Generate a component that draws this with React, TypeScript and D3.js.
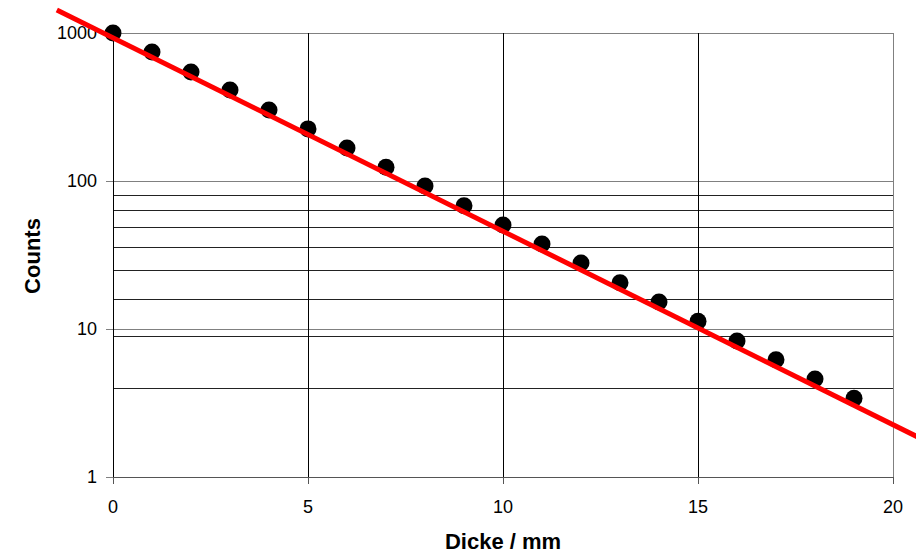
import React from 'react';
import * as d3 from 'd3';

const width = 916;
const height = 554;
const margin = { top: 33, right: 23, bottom: 77, left: 113 };

// Messwerte: Dicke in mm, Counts
const thickness = [0, 1, 2, 3, 4, 5, 6, 7, 8, 9, 10, 11, 12, 13, 14, 15, 16, 17, 18, 19];
const counts = [1000, 745, 545, 412, 302, 225, 167, 124, 92.5, 68, 50.4, 37.5, 27.9, 20.5, 15.2, 11.3, 8.3, 6.2, 4.6, 3.4];

// Fit-Gerade (exponentiell), Endpunkte
const fitX = [-1.44, 21];
const fitA = 928;
const fitMu = 0.301;

const xTicks = [0, 5, 10, 15, 20];
const yTicks = [1, 10, 100, 1000];
const extraLines = [4, 9, 16, 25, 36, 49, 64, 81];

const xScale = d3.scaleLinear().domain([0, 20]).range([margin.left, width - margin.right]);
const yScale = d3.scaleLog().domain([1, 1000]).range([height - margin.bottom, margin.top]);

const font = 'Arial, "Liberation Sans", sans-serif';

export default function App() {
  const x0 = xScale(0);
  const x1 = xScale(20);
  const yBottom = yScale(1);
  const yTop = yScale(1000);

  const fitLine = d3
    .line<number>()
    .x(d => xScale(d))
    .y(d => yScale(fitA * Math.exp(-fitMu * d)));

  return (
    <svg width={width} height={height} style={{ position: 'absolute', left: 0, top: 0, background: '#fff' }}>
      {/* horizontale Linien */}
      {extraLines.map(v => (
        <line key={'e' + v} x1={x0} x2={x1} y1={Math.round(yScale(v)) + 0.5} y2={Math.round(yScale(v)) + 0.5} stroke="#222" strokeWidth={1} />
      ))}
      {yTicks.slice(1).map(v => (
        <line key={'h' + v} x1={x0} x2={x1} y1={Math.round(yScale(v)) + 0.5} y2={Math.round(yScale(v)) + 0.5} stroke="#808080" strokeWidth={1} />
      ))}
      {/* vertikale Linien */}
      {xTicks.slice(1, -1).map(v => (
        <line key={'v' + v} x1={Math.round(xScale(v)) + 0.5} x2={Math.round(xScale(v)) + 0.5} y1={yTop} y2={yBottom} stroke="#000" strokeWidth={1} />
      ))}
      <line x1={Math.round(x1) + 0.5} x2={Math.round(x1) + 0.5} y1={yTop} y2={yBottom} stroke="#808080" />
      {/* Achsen */}
      <line x1={Math.round(x0) + 0.5} x2={Math.round(x0) + 0.5} y1={yTop} y2={yBottom} stroke="#000" />
      <line x1={x0} x2={x1 + 1} y1={Math.round(yBottom) + 0.5} y2={Math.round(yBottom) + 0.5} stroke="#555" />
      {xTicks.map(v => (
        <g key={'xt' + v}>
          <line x1={Math.round(xScale(v)) + 0.5} x2={Math.round(xScale(v)) + 0.5} y1={yBottom} y2={yBottom + 7} stroke="#555" />
          <text x={xScale(v)} y={yBottom + 36} textAnchor="middle" fontFamily={font} fontSize={18} fill="#000">
            {v}
          </text>
        </g>
      ))}
      {yTicks.map(v => (
        <g key={'yt' + v}>
          <line x1={x0 - 7} x2={x0} y1={Math.round(yScale(v)) + 0.5} y2={Math.round(yScale(v)) + 0.5} stroke="#808080" />
          <text x={x0 - 16} y={yScale(v) + 6} textAnchor="end" fontFamily={font} fontSize={18} fill="#000">
            {v}
          </text>
        </g>
      ))}
      {/* Messpunkte */}
      {counts.map((c, i) => (
        <circle key={'p' + i} cx={xScale(thickness[i])} cy={yScale(c)} r={8.5} fill="#000" />
      ))}
      {/* Fit */}
      <path d={fitLine(fitX) || ''} fill="none" stroke="#ff0000" strokeWidth={5} />
      {/* Achsentitel */}
      <text x={503} y={549} textAnchor="middle" fontFamily={font} fontSize={22} fontWeight="bold" fill="#000">
        Dicke / mm
      </text>
      <text transform="translate(40,256) rotate(-90)" textAnchor="middle" fontFamily={font} fontSize={22} fontWeight="bold" fill="#000">
        Counts
      </text>
    </svg>
  );
}
